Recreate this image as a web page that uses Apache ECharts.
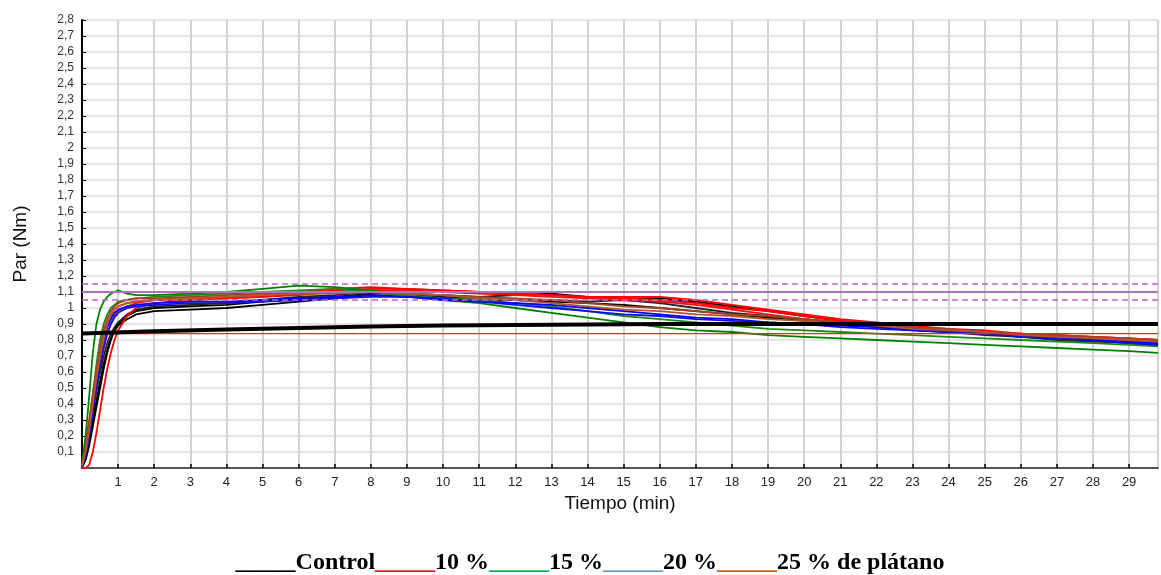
<!DOCTYPE html>
<html>
<head>
<meta charset="utf-8">
<title>Par vs Tiempo</title>
<script src="https://cdn.jsdelivr.net/npm/echarts@6/dist/echarts.min.js"></script>
</head>
<body style="margin:0">
<div id="main" style="width:1161px;height:575px;"></div>
<script type="text/javascript">

// time points (min) shared by the replicate curves
var tiempo = [0, 0.1, 0.2, 0.3, 0.4, 0.5, 0.6, 0.7, 0.8, 0.9, 1, 1.25, 1.5, 2,
  3, 4, 5, 6, 7, 8, 9, 10, 11, 12, 13, 14, 15, 16, 17, 18, 19, 20, 21, 22, 23, 24, 25, 26, 27, 28, 29, 29.8];

var controlA = [0, 0.08, 0.18, 0.3, 0.42, 0.54, 0.65, 0.74, 0.81, 0.86, 0.89, 0.93, 0.96, 0.98,
  0.99, 1.0, 1.02, 1.04, 1.06, 1.08, 1.07, 1.06, 1.05, 1.05, 1.04, 1.03, 1.02, 1.0, 0.98, 0.96, 0.94, 0.92, 0.9, 0.88, 0.86, 0.85, 0.84, 0.82, 0.81, 0.8, 0.79, 0.78];
var controlB = [0, 0.05, 0.14, 0.26, 0.38, 0.5, 0.62, 0.72, 0.8, 0.86, 0.9, 0.95, 0.98, 1.0,
  1.01, 1.02, 1.04, 1.06, 1.07, 1.09, 1.09, 1.08, 1.07, 1.08, 1.09, 1.07, 1.06, 1.06, 1.04, 1.01, 0.98, 0.95, 0.92, 0.9, 0.88, 0.86, 0.85, 0.83, 0.82, 0.8, 0.78, 0.77];
var controlC = [0.02, 0.12, 0.24, 0.36, 0.48, 0.6, 0.7, 0.78, 0.84, 0.88, 0.91, 0.96, 0.99, 1.01,
  1.02, 1.03, 1.05, 1.07, 1.08, 1.1, 1.08, 1.07, 1.06, 1.05, 1.05, 1.04, 1.05, 1.03, 1.0, 0.97, 0.95, 0.93, 0.91, 0.89, 0.87, 0.85, 0.83, 0.82, 0.8, 0.79, 0.78, 0.77];

var rojoA = [0, 0, 0.02, 0.1, 0.22, 0.36, 0.5, 0.62, 0.72, 0.8, 0.86, 0.95, 1.0, 1.03,
  1.05, 1.06, 1.07, 1.09, 1.11, 1.12, 1.12, 1.11, 1.1, 1.09, 1.08, 1.07, 1.07, 1.07, 1.05, 1.02, 0.99, 0.96, 0.93, 0.91, 0.89, 0.87, 0.86, 0.84, 0.83, 0.82, 0.81, 0.8];
var rojoB = [0.02, 0.15, 0.3, 0.46, 0.6, 0.72, 0.82, 0.9, 0.95, 0.99, 1.01, 1.03, 1.04, 1.05,
  1.06, 1.07, 1.08, 1.1, 1.12, 1.13, 1.12, 1.11, 1.1, 1.09, 1.08, 1.07, 1.06, 1.05, 1.03, 1.0, 0.98, 0.95, 0.92, 0.9, 0.88, 0.86, 0.85, 0.84, 0.83, 0.82, 0.81, 0.8];
var rojoC = [0.01, 0.1, 0.22, 0.36, 0.5, 0.64, 0.75, 0.84, 0.9, 0.95, 0.98, 1.01, 1.03, 1.05,
  1.05, 1.06, 1.07, 1.08, 1.1, 1.11, 1.11, 1.1, 1.09, 1.08, 1.07, 1.06, 1.05, 1.04, 1.02, 0.99, 0.96, 0.93, 0.91, 0.89, 0.87, 0.85, 0.84, 0.83, 0.82, 0.8, 0.79, 0.78];

var verdeA = [0.03, 0.2, 0.45, 0.72, 0.9, 0.99, 1.04, 1.07, 1.09, 1.1, 1.11, 1.09, 1.08, 1.08,
  1.09, 1.1, 1.12, 1.14, 1.13, 1.11, 1.08, 1.05, 1.03, 1.0, 0.97, 0.94, 0.91, 0.88, 0.86, 0.85, 0.83, 0.82, 0.81, 0.8, 0.79, 0.78, 0.77, 0.76, 0.75, 0.74, 0.73, 0.72];
var verdeB = [0.01, 0.1, 0.25, 0.45, 0.65, 0.8, 0.9, 0.96, 1.0, 1.02, 1.04, 1.05, 1.06, 1.07,
  1.08, 1.09, 1.1, 1.11, 1.12, 1.1, 1.08, 1.06, 1.05, 1.03, 1.01, 0.98, 0.95, 0.93, 0.91, 0.89, 0.87, 0.86, 0.85, 0.84, 0.83, 0.82, 0.81, 0.8, 0.79, 0.78, 0.77, 0.76];

var azulA = [0.01, 0.1, 0.24, 0.4, 0.56, 0.7, 0.8, 0.88, 0.93, 0.97, 0.99, 1.01, 1.02, 1.03,
  1.04, 1.04, 1.05, 1.06, 1.07, 1.08, 1.07, 1.05, 1.04, 1.03, 1.02, 1.0, 0.98, 0.96, 0.94, 0.93, 0.91, 0.9, 0.89, 0.88, 0.87, 0.85, 0.84, 0.83, 0.81, 0.8, 0.79, 0.78];
var azulB = [0.01, 0.08, 0.2, 0.35, 0.5, 0.64, 0.75, 0.84, 0.9, 0.94, 0.97, 1.0, 1.01, 1.02,
  1.03, 1.03, 1.04, 1.05, 1.06, 1.07, 1.07, 1.06, 1.04, 1.02, 1.0, 0.98, 0.96, 0.95, 0.93, 0.92, 0.91, 0.9, 0.88, 0.87, 0.86, 0.85, 0.84, 0.82, 0.81, 0.8, 0.78, 0.77];

var marronA = [0.02, 0.12, 0.28, 0.46, 0.62, 0.76, 0.86, 0.93, 0.98, 1.01, 1.03, 1.05, 1.06, 1.06,
  1.07, 1.08, 1.09, 1.1, 1.1, 1.1, 1.09, 1.08, 1.07, 1.06, 1.05, 1.03, 1.01, 1.0, 0.98, 0.96, 0.95, 0.93, 0.91, 0.9, 0.88, 0.87, 0.85, 0.84, 0.83, 0.82, 0.81, 0.8];
var marronB = [0.01, 0.1, 0.24, 0.4, 0.56, 0.7, 0.81, 0.9, 0.96, 0.99, 1.01, 1.03, 1.04, 1.05,
  1.06, 1.07, 1.08, 1.09, 1.09, 1.1, 1.09, 1.08, 1.06, 1.05, 1.03, 1.01, 0.99, 0.98, 0.96, 0.95, 0.93, 0.92, 0.9, 0.89, 0.87, 0.86, 0.85, 0.83, 0.82, 0.81, 0.8, 0.79];

// thick black near-flat line and thin red reference line
var lineaNegraT = [0, 2, 4, 6, 8, 10, 13, 16, 20, 25, 29.8];
var lineaNegraV = [0.84, 0.855, 0.865, 0.875, 0.885, 0.89, 0.895, 0.9, 0.9, 0.9, 0.9];
var lineaRoja = 0.84;

// purple reference band
var limiteSup = 1.15, limiteMed = 1.1, limiteInf = 1.05;

var tMax = 29.8;

function pares(ts, vs) {
  return ts.map(function (t, i) { return [t, vs[i]]; });
}
function curva(name, vals, color) {
  return {
    name: name, type: 'line', data: pares(tiempo, vals), showSymbol: false,
    lineStyle: { color: color, width: 1.8 }, z: 3
  };
}
function horizontal(v, color, type, width) {
  return {
    type: 'line', data: [[0, v], [tMax, v]], showSymbol: false,
    lineStyle: { color: color, type: type, width: width }, z: 4
  };
}

var chartDom = document.getElementById('main');
var myChart = echarts.init(chartDom);
var option;

option = {
  animation: false,
  grid: { left: 82, right: 3, top: 20, bottom: 107 },
  xAxis: {
    type: 'value', min: 0, max: tMax, interval: 1,
    name: 'Tiempo (min)', nameLocation: 'middle', nameGap: 24,
    nameTextStyle: { fontFamily: 'Liberation Sans', fontSize: 19, color: '#111' },
    axisLine: { lineStyle: { color: '#555', width: 2 } },
    axisTick: { inside: true, length: 4, lineStyle: { color: '#000', width: 1.5 } },
    axisLabel: {
      fontFamily: 'Liberation Sans', fontSize: 13, color: '#222', margin: 8,
      showMaxLabel: false,
      formatter: function (v) { return (v === 0 || v % 1 !== 0) ? '' : String(v); }
    },
    splitLine: { show: true, lineStyle: { color: '#d2d2d2', width: 2 } }
  },
  yAxis: {
    type: 'value', min: 0, max: 2.8, interval: 0.1,
    name: 'Par (Nm)', nameLocation: 'middle', nameGap: 52,
    nameTextStyle: { fontFamily: 'Liberation Sans', fontSize: 19, color: '#111' },
    axisLine: { show: true, lineStyle: { color: '#000', width: 2 } },
    axisTick: { show: true, inside: true, length: 4, lineStyle: { color: '#000', width: 1 } },
    axisLabel: {
      fontFamily: 'Liberation Sans', fontSize: 12, color: '#333', margin: 8,
      formatter: function (v) {
        if (v < 0.05) return '';
        var s = (Math.round(v * 10) / 10).toString();
        return s.replace('.', ',');
      }
    },
    splitLine: { show: true, lineStyle: { color: '#dedede', width: 1.5 } }
  },
  graphic: [{
    type: 'text', x: 590, y: 563,
    style: {
      text: '{k|_____}{t|Control}{r|_____}{t|10 %}{g|_____}{t|15 %}{b|_____}{t|20 %}{o|_____}{t|25 % de plátano}',
      align: 'center', verticalAlign: 'middle',
      font: 'bold 24px "Liberation Serif"',
      rich: {
        t: { fill: '#000', font: 'bold 24px "Liberation Serif"' },
        k: { fill: '#000', font: 'bold 24px "Liberation Serif"' },
        r: { fill: '#ff0000', font: 'bold 24px "Liberation Serif"' },
        g: { fill: '#00b050', font: 'bold 24px "Liberation Serif"' },
        b: { fill: '#5b9bd5', font: 'bold 24px "Liberation Serif"' },
        o: { fill: '#c55a11', font: 'bold 24px "Liberation Serif"' }
      }
    }
  }],
  series: [
    curva('Control', controlA, '#000000'),
    curva('Control', controlB, '#000000'),
    curva('Control', controlC, '#222222'),
    curva('10 %', rojoA, '#ff0000'),
    curva('10 %', rojoB, '#ff0000'),
    curva('10 %', rojoC, '#ee1111'),
    curva('15 %', verdeA, '#008000'),
    curva('15 %', verdeB, '#1a8a1a'),
    curva('20 %', azulA, '#0000ff'),
    curva('20 %', azulB, '#1010e0'),
    curva('25 %', marronA, '#a0461e'),
    curva('25 %', marronB, '#b5562a'),
    horizontal(lineaRoja, '#ff2020', 'solid', 1.2),
    {
      type: 'line', data: pares(lineaNegraT, lineaNegraV), showSymbol: false,
      lineStyle: { color: '#000', width: 4 }, z: 5
    },
    horizontal(limiteSup, '#b866c8', [6, 4], 1.5),
    horizontal(limiteMed, '#b070c0', 'solid', 2),
    horizontal(limiteInf, '#b866c8', [6, 4], 1.5)
  ]
};

option && myChart.setOption(option);
</script>
</body>
</html>
